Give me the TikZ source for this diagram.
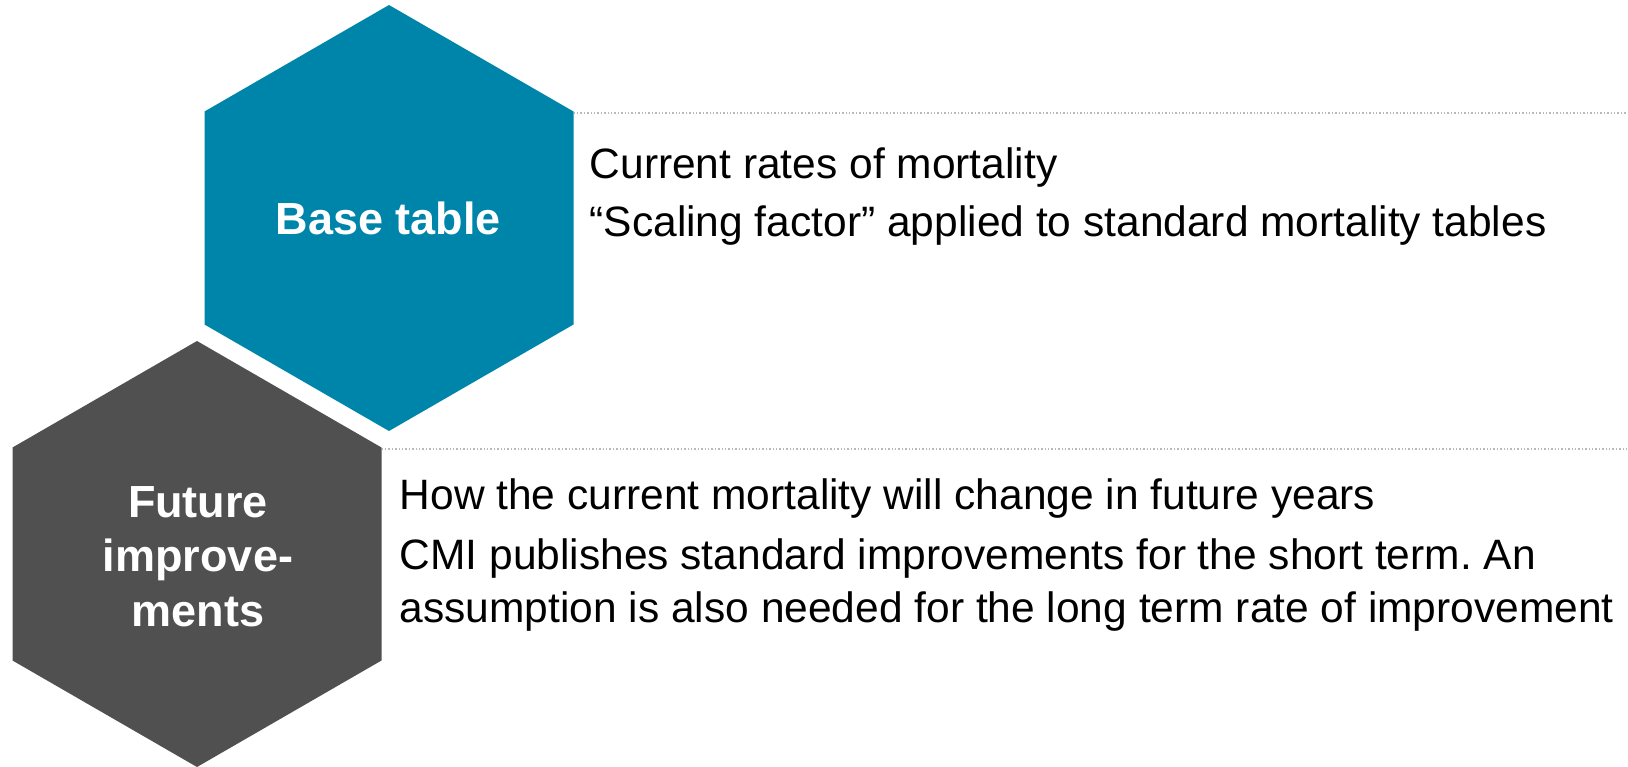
\documentclass[tikz,border=0pt]{standalone}
\usepackage{fontspec}
\setmainfont{Liberation Sans}
\definecolor{hexblue}{RGB}{0,133,170}
\definecolor{hexgray}{RGB}{80,80,80}
\definecolor{dotgray}{RGB}{185,185,185}
\frenchspacing
\begin{document}
\begin{tikzpicture}[x=1pt,y=-1pt,
  hexlabel/.style={text=white,font=\fontsize{45}{54.5}\selectfont\bfseries,align=center,inner sep=0pt},
  bodytext/.style={text=black,font=\fontsize{42.5}{53}\selectfont\frenchspacing,anchor=base west,inner sep=0pt},
  guide/.style={dotgray,line width=1.5pt,dash pattern=on 1.5pt off 1.9pt}]
\useasboundingbox (0,0) rectangle (1628,766);
% blue hexagon
\coordinate (bc) at (389,218);
\fill[hexblue] (389,5) -- (573.5,111.5) -- (573.5,324.5) -- (389,431) -- (204.5,324.5) -- (204.5,111.5) -- cycle;
\coordinate (bne) at (573.5,113);
% gray hexagon
\coordinate (gc) at (197,554);
\fill[hexgray] (197,341) -- (381.5,447.5) -- (381.5,660.5) -- (197,767) -- (12.5,660.5) -- (12.5,447.5) -- cycle;
\coordinate (gne) at (381.5,449);
% labels
\node[hexlabel,anchor=base] (bl) at (388.5,234) {Base table};
\node[hexlabel,anchor=base] (gl1) at (198,517) {Future};
\node[hexlabel,anchor=base] (gl2) at (198,571.5) {improve-};
\node[hexlabel,anchor=base] (gl3) at (198,626) {ments};
% dotted guides
\coordinate (e1) at (1628,113);
\coordinate (e2) at (1628,449);
\draw[guide] (bne) -- (e1);
\draw[guide] (gne) -- (e2);
% text
\node[bodytext] (t1) at (589.5,178) {Current rates of mortality};
\node[bodytext] (t2) at (589.5,236) {“Scaling factor” applied to standard mortality tables};
\node[bodytext] (t3) at (399.5,509) {How the current mortality will change in future years};
\node[bodytext] (t4) at (399.5,569) {CMI publishes standard improvements for the short term. An};
\node[bodytext] (t5) at (399.5,622) {assumption is also needed for the long term rate of improvement};
\end{tikzpicture}
\end{document}
